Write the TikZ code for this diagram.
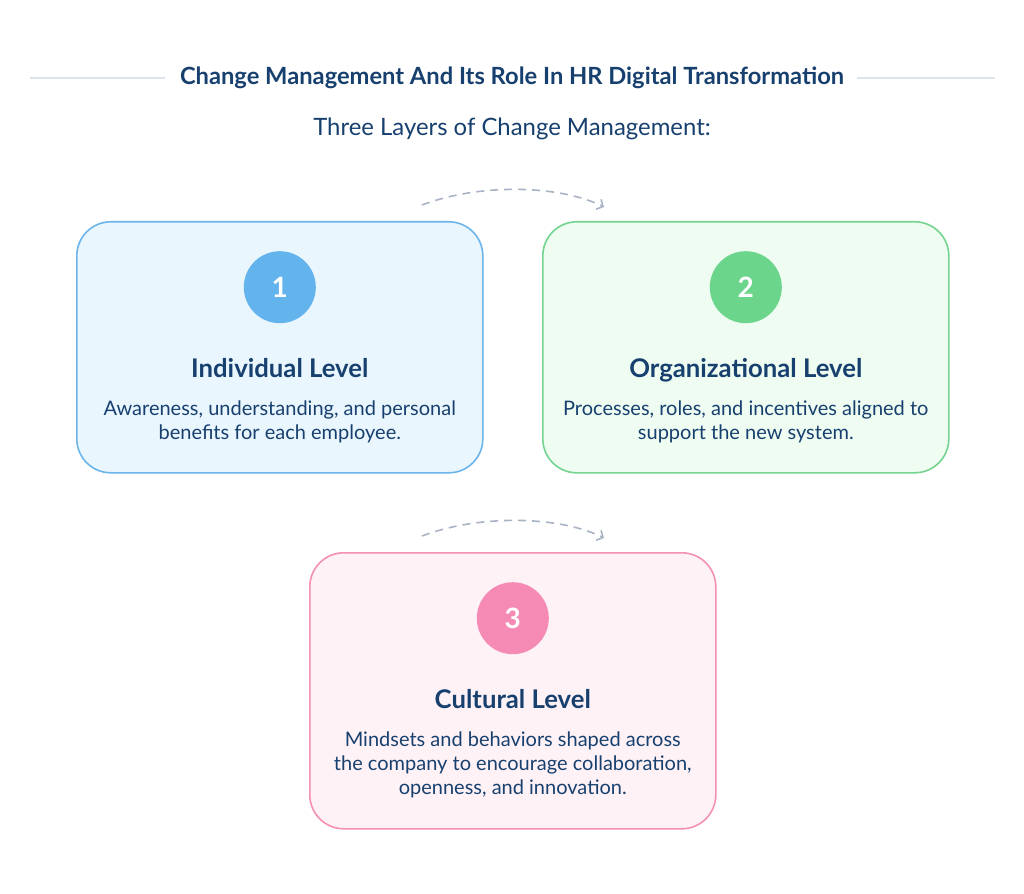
\documentclass[tikz,border=0pt]{standalone}
\usepackage{fontspec}
\setmainfont{Lato}
\usetikzlibrary{calc,arrows.meta,positioning}
\definecolor{inkblue}{HTML}{17406F}
\definecolor{rulegray}{HTML}{DDE3EA}
\definecolor{flowgray}{HTML}{A9B3C6}
\definecolor{blueline}{HTML}{6BB5EA}
\definecolor{bluefill}{HTML}{EAF6FE}
\definecolor{bluedot}{HTML}{63B3ED}
\definecolor{greenline}{HTML}{74D490}
\definecolor{greenfill}{HTML}{EEFCF1}
\definecolor{greendot}{HTML}{6BD58C}
\definecolor{pinkline}{HTML}{F48FB5}
\definecolor{pinkfill}{HTML}{FFF2F6}
\definecolor{pinkdot}{HTML}{F58BB4}
\newcommand{\blurbtext}[1]{\parbox[t]{400pt}{\centering #1}}
\begin{document}
\begin{tikzpicture}[x=1pt,y=-1pt,
  card/.style={draw, line width=1.6pt, rounded corners=34pt, minimum width=406pt, minimum height=251pt, anchor=north west, inner sep=0pt},
  badge/.style={circle, minimum size=72pt, inner sep=0pt, text=white, font=\fontsize{28}{28}\selectfont\bfseries},
  head/.style={text=inkblue, font=\fontsize{25.7}{30}\selectfont\bfseries, inner sep=0pt, anchor=base},
  blurb/.style={text=inkblue, font=\fontsize{20}{24}\selectfont, inner sep=0pt, anchor=base},
  flow/.style={flowgray, line width=1.6pt, dash pattern=on 8pt off 6pt, -{Straight Barb[length=5pt,width=11pt,line width=1.6pt]}}]
\useasboundingbox (0,0) rectangle (1024,893);
\fill[white] (0,0) rectangle (1024,893);

% title
\node[text=inkblue, font=\fontsize{23.7}{28}\selectfont\bfseries, inner sep=0pt] (title) at (512,78) {Change Management And Its Role In HR Digital Transformation};
\coordinate (ruleL) at (30,78);
\coordinate (ruleR) at (995,78);
\draw[rulegray, line width=1.2pt] (ruleL) -- ([xshift=-15pt]title.west);
\draw[rulegray, line width=1.2pt] ([xshift=13pt]title.east) -- (ruleR);
\node[text=inkblue, font=\fontsize{23.9}{28}\selectfont, inner sep=0pt] (sub) at (512,129) {Three Layers of Change Management:};

% cards
\node[card, draw=blueline, fill=bluefill] (c1) at (76,221) {};
\node[card, draw=greenline, fill=greenfill] (c2) at (542,221) {};
\node[card, draw=pinkline, fill=pinkfill, minimum height=276pt] (c3) at (309,552) {};

\node[badge, fill=bluedot, below=30pt of c1.north] (n1) {1};
\node[badge, fill=greendot, below=30pt of c2.north] (n2) {2};
\node[badge, fill=pinkdot, below=30pt of c3.north] (n3) {3};

\node[head] (t1) at ($(c1.north)+(0,156)$) {Individual Level};
\node[head] (t2) at ($(c2.north)+(0,156)$) {Organizational Level};
\node[head] (t3) at ($(c3.north)+(0,156)$) {Cultural Level};

\node[blurb] (b1) at ($(c1.north)+(0,194)$) {\blurbtext{Awareness, understanding, and personal\\benefits for each employee.}};
\node[blurb] (b2) at ($(c2.north)+(0,194)$) {\blurbtext{Processes, roles, and incentives aligned to\\support the new system.}};
\node[blurb] (b3) at ($(c3.north)+(0,194)$) {\blurbtext{Mindsets and behaviors shaped across\\the company to encourage collaboration,\\openness, and innovation.}};

% arrows
\coordinate (a1s) at (422,205);
\coordinate (a1e) at (604,207);
\coordinate (a2s) at (422,536);
\coordinate (a2e) at (604,538);
\draw[flow] (a1s) .. controls (480,183) and (560,185) .. (a1e);
\draw[flow] (a2s) .. controls (480,514) and (560,516) .. (a2e);
\end{tikzpicture}
\end{document}
